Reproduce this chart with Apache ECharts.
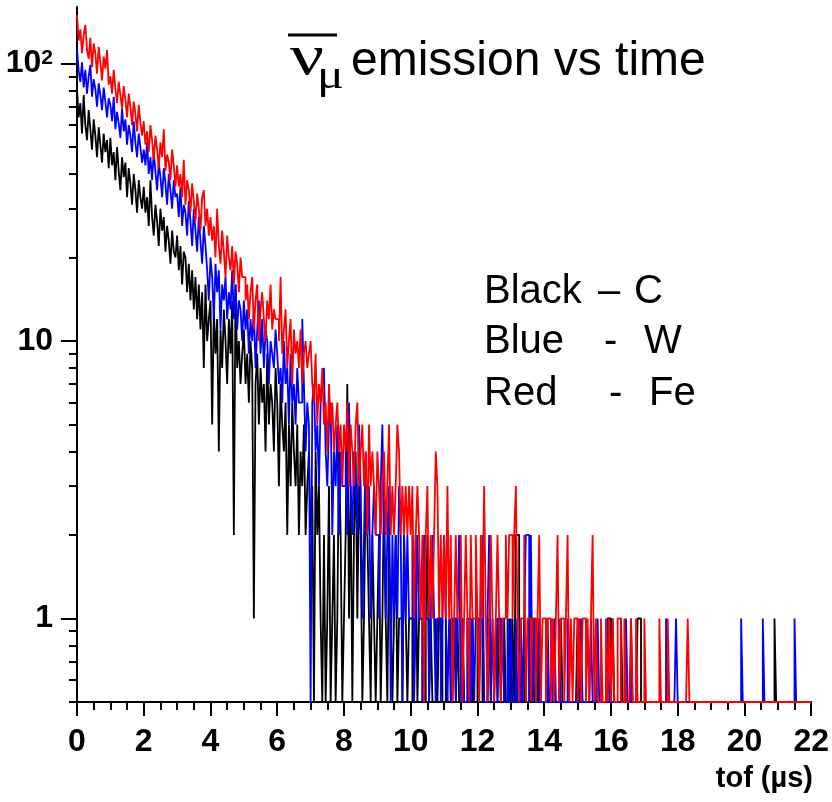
<!DOCTYPE html>
<html>
<head>
<meta charset="utf-8">
<script src="https://cdn.jsdelivr.net/npm/echarts@6/dist/echarts.min.js"></script>
<style>
html,body{margin:0;padding:0;background:#ffffff;}
#chart{width:832px;height:802px;}
</style>
</head>
<body>
<div id="chart"></div>
<script>
// ---- histogram binning (µs) ----
const BIN_WIDTH = 0.05;
const X_MIN = 0, X_MAX = 22;
const Y_MIN = 0.5, Y_MAX = 160;

// ---- counts per bin (20 bins = 1 µs per row) ----
// Black - C
const carbon = [
  81,64,72,56,77,60,53,68,58,49,63,55,46,59,51,44,56,48,53,42,
  54,43,48,38,50,41,35,46,39,44,33,42,37,31,40,35,29,38,33,30,
  36,29,33,26,38,28,24,31,27,22,30,25,28,21,26,23,19,25,21,20,
  24,18,22,16,21,20,15,19,14,18,13,17,12,16,11,15,8,16,10,12,
  14,5,13,9,12,4,11,8,13,10,7,12,9,14,2,16,8,10,7,9,
  11,7,9,6,10,8,1,7,9,5,8,6,7,4,9,5,7,6,4,8,
  6,3,7,5,4,6,2,5,3,6,4,3,5,2,4,3,5,2,3,4,
  2,3,0,4,2,3,1,0,2,0,1,3,0,1,2,0,1,4,2,0,
  1,2,7,1,3,0,2,4,1,3,2,0,1,3,2,1,0,2,1,0,
  1,2,0,1,3,1,0,2,1,0,1,2,0,1,1,0,2,1,0,1,
  1,0,1,2,0,1,1,0,0,1,2,0,1,0,0,1,0,1,1,0,
  0,1,0,0,1,0,1,0,1,0,0,1,0,0,1,0,0,1,0,0,
  1,0,0,1,0,0,0,1,0,0,0,1,0,1,0,0,1,0,0,1,
  0,1,0,2,2,1,0,0,1,0,0,1,0,1,0,0,1,0,0,0,
  0,0,0,0,0,0,0,0,0,0,1,0,0,0,0,0,0,0,0,0,
  1,0,0,0,0,0,0,0,0,0,0,0,0,0,0,0,0,0,1,1,
  0,1,0,0,0,0,1,0,0,0,0,0,0,0,0,0,1,1,0,0,
  0,0,0,0,0,0,0,0,0,0,0,0,0,0,0,0,0,0,0,0,
  0,0,0,0,0,0,0,0,0,0,0,0,0,0,0,0,0,0,0,0,
  0,0,0,0,0,0,0,0,0,0,0,0,0,0,0,0,0,0,0,0,
  0,0,0,0,0,0,0,0,0,0,0,0,0,0,0,0,0,0,1,0,
  0,0,0,0,0,0,0,0,0,0,0,0,0,0,0,0,0,0,0,0
];
// Blue - W
const tungsten = [
  113,94,86,101,82,95,78,90,99,76,88,81,70,85,77,68,82,73,64,75,
  71,62,76,58,67,61,54,69,57,63,51,60,55,48,62,52,46,56,50,44,
  49,43,52,40,46,38,48,41,35,44,39,33,42,37,31,40,35,30,38,33,
  34,28,36,26,31,29,24,32,27,22,30,25,21,28,23,19,26,22,18,14,
  20,17,12,19,15,18,11,16,14,17,12,15,13,18,12,16,11,14,13,10,
  14,11,13,9,12,10,13,8,11,14,9,12,8,11,10,7,10,9,8,11,
  9,7,8,6,10,7,8,5,9,6,7,5,8,6,6,12,7,4,6,5,
  0,6,7,4,5,3,6,7,8,4,3,5,6,2,4,3,5,2,4,3,
  3,4,2,6,3,2,4,3,2,5,3,1,2,4,2,3,1,2,3,2,
  2,1,3,5,2,1,2,3,0,2,1,2,1,3,2,0,2,1,2,1,
  1,2,0,1,2,1,1,0,2,1,1,0,1,2,1,0,1,1,0,1,
  2,1,0,1,0,1,1,0,1,2,0,1,0,0,1,1,0,1,0,1,
  1,0,1,2,0,0,1,2,0,1,0,0,1,1,0,1,0,0,1,0,
  1,0,0,1,0,0,1,0,1,2,2,0,2,0,1,0,0,1,0,0,
  0,0,1,0,0,0,1,0,0,1,0,0,0,0,1,0,0,0,0,0,
  0,0,1,0,0,0,0,0,1,0,0,0,1,0,0,0,0,0,1,0,
  0,0,0,0,0,0,0,0,0,1,0,0,1,0,0,0,0,0,0,0,
  0,0,0,0,0,0,0,0,0,0,0,0,0,1,0,0,0,0,0,1,
  0,0,0,0,0,0,0,0,0,0,0,0,0,0,0,0,0,0,0,0,
  0,0,0,0,0,0,0,0,0,0,0,0,0,0,0,0,0,0,1,0,
  0,0,0,0,0,0,0,0,0,0,0,1,0,0,0,0,0,0,0,0,
  0,0,0,0,0,0,0,0,0,0,1,0,0,0,0,0,0,0,0,0
];
// Red - Fe
const iron = [
  150,121,133,109,127,138,112,104,124,97,118,109,92,115,101,87,106,96,112,84,
  90,78,95,81,72,86,77,69,83,74,64,78,70,60,73,66,57,71,61,55,
  62,51,57,48,60,53,45,55,49,42,52,46,58,41,47,44,38,49,43,36,
  43,36,40,33,45,31,38,35,29,37,32,27,34,30,25,33,35,26,30,24,
  28,23,26,20,30,22,19,25,21,17,24,20,18,22,16,21,19,15,20,17,
  17,14,16,12,15,17,11,14,16,10,13,15,12,10,14,12,16,11,13,12,
  12,10,17,9,11,13,8,10,12,7,11,9,10,8,11,7,9,10,8,9,
  10,7,6,9,5,7,6,8,5,6,4,7,5,6,4,5,6,4,5,3,
  5,4,6,3,5,4,3,5,6,3,4,5,3,4,2,5,3,4,3,2,
  4,3,2,3,4,2,3,5,2,3,2,3,5,4,2,3,2,3,2,3,
  2,3,1,2,3,2,1,2,0,2,3,1,2,1,2,4,3,1,2,1,
  2,1,3,1,2,0,1,2,1,1,2,0,1,2,1,0,2,1,1,2,
  1,0,2,1,3,1,0,1,2,1,0,1,2,1,0,1,1,2,1,2,
  2,1,2,3,1,0,1,1,2,0,1,1,0,1,1,0,1,2,0,1,
  1,0,1,1,0,1,0,1,2,0,1,1,0,1,2,0,1,0,1,1,
  0,1,0,1,1,0,1,0,1,2,0,1,0,0,1,0,0,1,0,1,
  0,1,0,0,1,1,0,0,1,0,0,0,1,0,0,1,0,0,0,0,
  1,0,0,0,0,0,0,0,0,1,0,0,0,0,1,0,0,0,0,0,
  0,0,0,0,0,0,1,0,0,0,0,0,0,0,0,0,0,0,0,0,
  0,0,0,0,0,0,0,0,0,0,0,0,0,0,0,0,0,0,0,0,
  0,0,0,0,0,0,0,0,0,0,0,0,0,0,0,0,0,0,0,0,
  0,0,0,0,0,0,0,0,0,0,0,0,0,0,0,0,0,0,0,0
];

// ---- axis ticks / labels ----
const xTickInterval = 2;
const yLabelValues = [1, 10, 100];
const yMinorTickValues = [0.5,0.6,0.7,0.8,0.9, 2,3,4,5,6,7,8,9, 20,30,40,50,60,70,80,90];

const AXIS_FONT = '"Liberation Sans",Arial,Helvetica,sans-serif';

// histogram outline; zero-count bins drop to the bottom of the log axis (as ROOT draws them)
function histSteps(counts) {
  const pts = [];
  counts.forEach(function (c, i) {
    pts.push([+(X_MIN + i * BIN_WIDTH).toFixed(3), c > 0 ? c : Y_MIN]);
  });
  const last = counts[counts.length - 1];
  pts.push([X_MAX, last > 0 ? last : Y_MIN]);
  return pts;
}

function histSeries(name, counts, color) {
  return {
    name: name,
    type: 'line',
    step: 'end',
    data: histSteps(counts),
    symbol: 'none',
    showSymbol: false,
    silent: true,
    animation: false,
    clip: true,
    lineStyle: { color: color, width: 1.8 }
  };
}

const chart = echarts.init(document.getElementById('chart'), null, { renderer: 'canvas' });

chart.setOption({
  backgroundColor: '#ffffff',
  animation: false,
  grid: { left: 77, right: 19, top: 7, bottom: 100, containLabel: false },
  xAxis: {
    type: 'value',
    min: X_MIN,
    max: X_MAX,
    interval: xTickInterval,
    axisLine: { show: true, onZero: false, lineStyle: { color: '#000', width: 2 } },
    axisTick: { show: true, length: 14, lineStyle: { color: '#000', width: 2 } },
    minorTick: { show: true, splitNumber: 4, length: 8, lineStyle: { color: '#000', width: 2 } },
    splitLine: { show: false },
    minorSplitLine: { show: false },
    axisLabel: {
      color: '#000', fontSize: 32, fontWeight: 'bold', fontFamily: AXIS_FONT, margin: 24
    }
  },
  yAxis: [
    {
      type: 'log',
      logBase: 10,
      min: Y_MIN,
      max: Y_MAX,
      position: 'left',
      axisLine: { show: true, onZero: false, lineStyle: { color: '#000', width: 2 } },
      axisTick: { show: true, customValues: yLabelValues, length: 16, lineStyle: { color: '#000', width: 2 } },
      splitLine: { show: false },
      axisLabel: {
        customValues: yLabelValues,
        margin: 24,
        formatter: function (v) {
          if (v >= 100) return '{a|10}{s|2}';
          return '{a|' + v + '}';
        },
        rich: {
          a: { color: '#000', fontSize: 32, fontWeight: 'bold', fontFamily: AXIS_FONT },
          s: { color: '#000', fontSize: 21, fontWeight: 'bold', fontFamily: AXIS_FONT, verticalAlign: 'top' }
        }
      }
    },
    {
      type: 'log',
      logBase: 10,
      min: Y_MIN,
      max: Y_MAX,
      position: 'left',
      axisLine: { show: false },
      axisTick: { show: true, customValues: yMinorTickValues, length: 8, lineStyle: { color: '#000', width: 2 } },
      axisLabel: { show: false },
      splitLine: { show: false }
    }
  ],
  series: [
    histSeries('C', carbon, '#000000'),
    histSeries('W', tungsten, '#0000ff'),
    histSeries('Fe', iron, '#ff0000')
  ],
  graphic: [
    { type: 'line', shape: { x1: 288, y1: 35, x2: 337, y2: 35 }, style: { stroke: '#000', lineWidth: 3 } },
    { type: 'text', x: 290, y: 59, scaleX: 1.3,
      style: { text: 'ν', font: '58px "Liberation Serif", serif', fill: '#000', verticalAlign: 'middle' } },
    { type: 'text', x: 317, y: 77, scaleX: 1.25,
      style: { text: 'μ', font: '40px "Liberation Serif", serif', fill: '#000', verticalAlign: 'middle' } },
    { type: 'text', x: 351, y: 62,
      style: { text: 'emission vs time', font: '48px "Liberation Sans", Arial, sans-serif', fill: '#000', verticalAlign: 'middle' } },

    { type: 'text', x: 484, y: 292, style: { text: 'Black', font: '40px "Liberation Sans", Arial, sans-serif', fill: '#000', verticalAlign: 'middle' } },
    { type: 'text', x: 598, y: 292, style: { text: '–', font: '40px "Liberation Sans", Arial, sans-serif', fill: '#000', verticalAlign: 'middle' } },
    { type: 'text', x: 634, y: 292, style: { text: 'C', font: '40px "Liberation Sans", Arial, sans-serif', fill: '#000', verticalAlign: 'middle' } },

    { type: 'text', x: 484, y: 342, style: { text: 'Blue', font: '40px "Liberation Sans", Arial, sans-serif', fill: '#000', verticalAlign: 'middle' } },
    { type: 'text', x: 604, y: 342, style: { text: '-', font: '40px "Liberation Sans", Arial, sans-serif', fill: '#000', verticalAlign: 'middle' } },
    { type: 'text', x: 644, y: 342, style: { text: 'W', font: '40px "Liberation Sans", Arial, sans-serif', fill: '#000', verticalAlign: 'middle' } },

    { type: 'text', x: 484, y: 394, style: { text: 'Red', font: '40px "Liberation Sans", Arial, sans-serif', fill: '#000', verticalAlign: 'middle' } },
    { type: 'text', x: 609, y: 394, style: { text: '-', font: '40px "Liberation Sans", Arial, sans-serif', fill: '#000', verticalAlign: 'middle' } },
    { type: 'text', x: 649, y: 394, style: { text: 'Fe', font: '40px "Liberation Sans", Arial, sans-serif', fill: '#000', verticalAlign: 'middle' } },

    { type: 'text', x: 813, y: 779,
      style: { text: 'tof (µs)', font: 'bold 29px ' + AXIS_FONT, fill: '#000', align: 'right', verticalAlign: 'middle' } }
  ]
});
</script>
</body>
</html>
